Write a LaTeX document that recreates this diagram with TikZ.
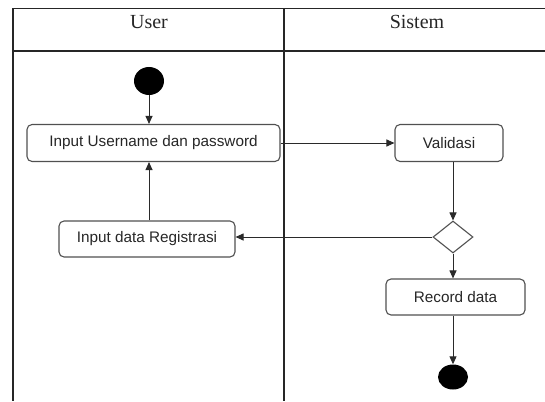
\documentclass[tikz,border=0pt]{standalone}
\usepackage{fontspec}
\setmainfont{Liberation Serif}
\newfontfamily\boxfont{Liberation Sans}
\usetikzlibrary{arrows.meta,shapes.geometric}
\definecolor{ln}{HTML}{2A2A2A}
\definecolor{bx}{HTML}{505050}
\definecolor{tx}{HTML}{262626}
\tikzset{
  actbox/.style={draw=bx, line width=1.1pt, rounded corners=5pt, inner sep=0pt,
    font=\boxfont\fontsize{15.3}{17}\selectfont, text=tx},
  flow/.style={draw=ln, line width=1pt, -{Triangle[length=8pt,width=7pt]}},
  lane/.style={draw=black!85, line width=1.3pt},
  hdr/.style={font=\fontsize{20}{22}\selectfont, text=black!85}
}
\begin{document}
\begin{tikzpicture}[x=1pt,y=-1pt]
\useasboundingbox (0,0) rectangle (545,401);
% swimlanes
\draw[lane] (545,8.5) -- (13,8.5) -- (13,401);
\draw[lane] (13,51) -- (545,51);
\draw[lane] (284,8.5) -- (284,401);
\node[hdr] (hu) at (149,22) {User};
\node[hdr] (hs) at (417,22) {Sistem};
% nodes
\node[ellipse, fill=black, minimum width=30pt, minimum height=28pt, inner sep=0pt] (start) at (149,81) {};
\node[actbox, minimum width=253pt, minimum height=37pt] (user) at (153.5,143) {Input Username dan password\hspace{10pt}};
\node[actbox, minimum width=176pt, minimum height=36pt] (reg) at (147,239) {Input data Registrasi};
\node[actbox, minimum width=108pt, minimum height=37pt] (val) at (449,143) {Validasi};
\node[diamond, draw=bx, line width=1.1pt, minimum width=40pt, minimum height=32pt, inner sep=0pt, aspect=1.25] (dec) at (453,237) {};
\node[actbox, minimum width=139pt, minimum height=36pt] (rec) at (455.5,297) {Record data};
\node[ellipse, fill=black, minimum width=30pt, minimum height=25pt, inner sep=0pt] (end) at (453,377) {};
% connectors
\draw[flow] (start) -- (start |- user.north);
\draw[flow] (reg.north -| start) -- (user.south -| start);
\draw[flow] (user.east) -- (val.west |- user.east);
\draw[flow] (val.south -| dec) -- (dec.north);
\draw[flow] (dec.west) -- (reg.east |- dec.west);
\draw[flow] (dec.south) -- (rec.north -| dec);
\draw[flow] (rec.south -| end) -- (end.north);
\end{tikzpicture}
\end{document}
